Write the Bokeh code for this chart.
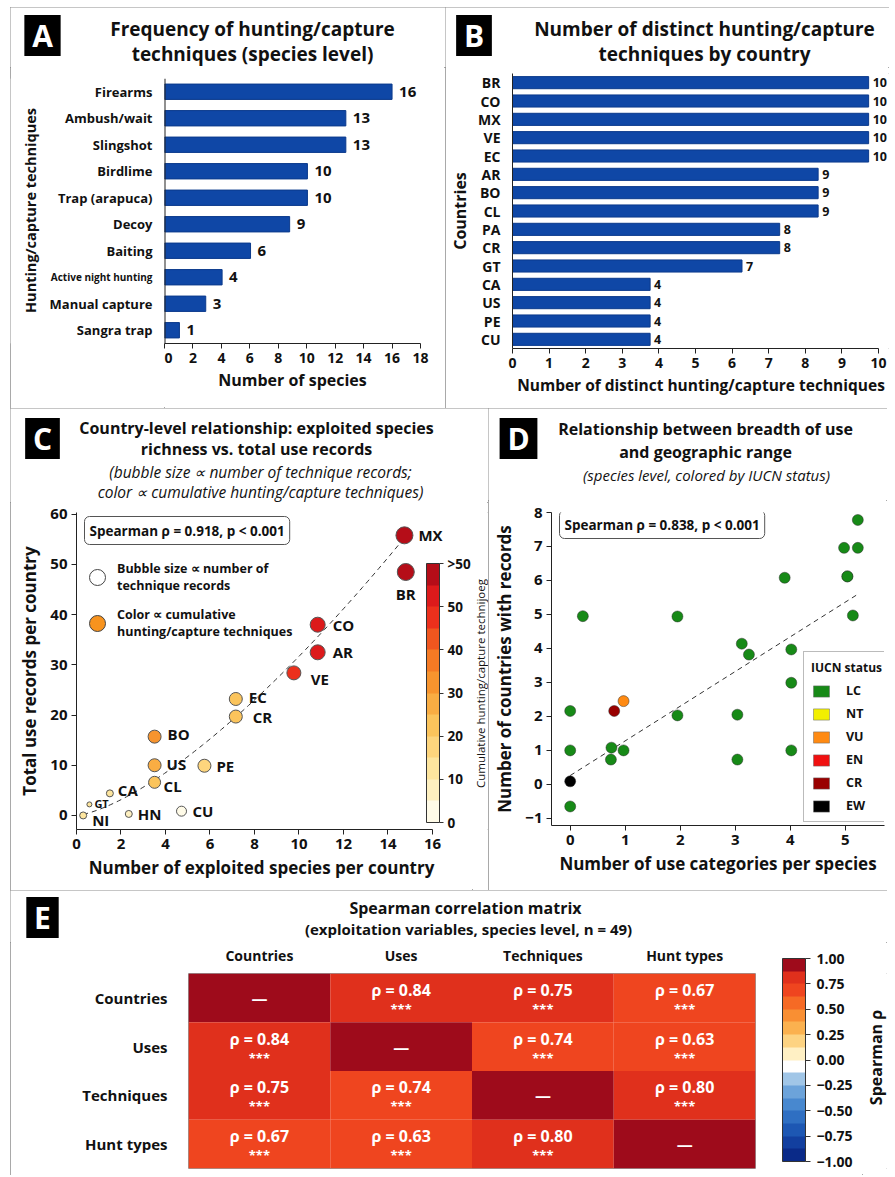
from math import pi
import numpy as np
from bokeh.plotting import figure
from bokeh.models import (ColumnDataSource, Label, FactorRange, Range1d, Span, Spacer,
                          LinearColorMapper, ColorBar, FixedTicker, Legend, LegendItem,
                          CustomJSTickFormatter)
from bokeh.layouts import column, row
from bokeh.embed import file_html
from bokeh.resources import INLINE
from bokeh.transform import transform
from bokeh.core.properties import value

# ------------------------------------------------------------------ data
# Panel A
techniques = ["Firearms", "Ambush/wait", "Slingshot", "Birdlime", "Trap (arapuca)",
              "Decoy", "Baiting", "Active night hunting", "Manual capture", "Sangra trap"]
technique_species = [16, 13, 13, 10, 10, 9, 6, 4, 3, 1]
technique_bar_len = [16.0, 12.75, 12.75, 10.05, 10.05, 8.8, 6.05, 4.05, 2.9, 1.05]
a_ticks = [0, 2, 4, 6, 8, 10, 12, 14, 16, 18]

# Panel B
countries_b = ["BR", "CO", "MX", "VE", "EC", "AR", "BO", "CL", "PA", "CR", "GT", "CA", "US", "PE", "CU"]
country_techniques = [10, 10, 10, 10, 10, 9, 9, 9, 8, 8, 7, 4, 4, 4, 4]
country_bar_len = [9.73, 9.73, 9.73, 9.73, 9.73, 8.35, 8.35, 8.35, 7.3, 7.3, 6.27, 3.76, 3.76, 3.76, 3.76]
b_ticks = [0, 1, 2, 3, 4, 5, 6, 7, 8, 9, 10]

# Panel C
countries_c = ["MX", "BR", "CO", "AR", "VE", "EC", "CR", "BO", "US", "PE", "CL", "CA", "GT", "NI", "HN", "CU"]
species_richness = [14.74, 14.80, 10.84, 10.84, 9.77, 7.16, 7.16, 3.51, 3.51, 5.75, 3.51, 1.50, 0.58, 0.30, 2.35, 4.72]
use_records = [55.8, 48.5, 38.0, 32.5, 28.4, 23.2, 19.7, 15.7, 10.0, 9.9, 6.6, 4.4, 2.2, 0.0, 0.3, 0.85]
technique_records = [13, 13, 11, 11, 10, 9, 9, 9, 9, 9, 8, 3, 1, 3, 3, 6]
cumulative_techniques = [58, 58, 52, 52, 47, 22, 22, 32, 28, 18, 22, 12, 12, 12, 8, 2]
fit_a, fit_b = 1.164, 1.435          # power-law trend
c_xticks = [0, 2, 4, 6, 8, 10, 12, 14, 16]
c_yticks = [0, 10, 20, 30, 40, 50, 60]
c_cbar_ticks = [0, 10, 20, 30, 40, 50, 60]

# Panel D
use_categories = [0.23, 0.0, 0.0, 0.0, 0.0, 0.75, 0.74, 0.97, 0.80, 0.97, 1.95, 1.95, 3.12,
                  3.25, 3.04, 3.04, 3.90, 4.02, 4.02, 4.02, 4.98, 5.23, 5.23, 5.04, 5.04, 5.14]
countries_with_records = [4.95, 2.16, 1.0, 0.09, -0.65, 1.08, 0.73, 1.0, 2.16, 2.45, 4.94, 2.03, 4.14,
                          3.82, 2.05, 0.73, 6.08, 3.97, 2.99, 1.0, 6.96, 6.96, 7.78, 6.12, 6.12, 4.97]
iucn_status = ["LC", "LC", "LC", "EW", "LC", "LC", "LC", "LC", "CR", "VU", "LC", "LC", "LC",
               "LC", "LC", "LC", "LC", "LC", "LC", "LC", "LC", "LC", "LC", "LC", "LC", "LC"]
iucn_order = ["LC", "NT", "VU", "EN", "CR", "EW"]
trend_intercept, trend_slope = 0.26, 1.02
d_xticks = [0, 1, 2, 3, 4, 5]
d_yticks = [-1, 0, 1, 2, 3, 4, 5, 6, 7, 8]

# Panel E
variables = ["Countries", "Uses", "Techniques", "Hunt types"]
rho_matrix = [[1.00, 0.84, 0.75, 0.67],
              [0.84, 1.00, 0.74, 0.63],
              [0.75, 0.74, 1.00, 0.80],
              [0.67, 0.63, 0.80, 1.00]]
significance = "***"
rho_ticks = [-1.0, -0.75, -0.5, -0.25, 0.0, 0.25, 0.5, 0.75, 1.0]

# ------------------------------------------------------------------ styles
FONT = "Open Sans"
BLUE = "#0F47A6"
INK = "#111111"
NAN = float("nan")
NBSP = "\u00a0"
PANEL_STYLE = {"outline": "1.5px solid #8c8c8c", "outline-offset": "-1px"}
cum_palette = ["#fffbe8", "#fef0c0", "#fde59e", "#fdd57d", "#fbc45c", "#f9ad43",
               "#f7942e", "#f57a24", "#f0561f", "#ec301c", "#dc1a1b", "#b50d18"]
rho_palette = ["#0a2a88", "#123f9f", "#1d57b3", "#2f6fc2", "#4888cf", "#6ca3da", "#a1c6e7", "#ffffff",
               "#fff0c4", "#fdd382", "#fbb14f", "#f98f33", "#f66a25", "#ef451f", "#e0301c", "#9e0b1b"]
iucn_colors = {"LC": "#178a17", "NT": "#f2ef00", "VU": "#ff8a12", "EN": "#f01010", "CR": "#990000", "EW": "#000000"}


def make_fig(**kw):
    p = figure(output_backend="svg", toolbar_location=None, **kw)
    p.outline_line_color = None
    p.grid.visible = False
    p.background_fill_color = "white"
    p.border_fill_color = "white"
    return p


def make_blank(width, height, top=0, bottom=0, y_range=None):
    """Axis-less figure used to carry titles / side texts (frame fills it)."""
    h = figure(width=width, height=height, output_backend="svg", toolbar_location=None,
               x_axis_location=None, y_axis_location=None,
               x_range=Range1d(0, width), y_range=y_range if y_range is not None else Range1d(0, height),
               min_border=0, min_border_left=0, min_border_right=0,
               min_border_top=top, min_border_bottom=bottom)
    h.outline_line_color = None
    h.grid.visible = False
    h.border_fill_color = "white"
    h.background_fill_color = "white"
    return h


def style_axis(axes, tick_size, title_size):
    for ax in axes:
        ax.major_label_text_font = FONT
        ax.major_label_text_font_style = "bold"
        ax.major_label_text_font_size = tick_size
        ax.major_label_text_color = INK
        ax.axis_label_text_font = FONT
        ax.axis_label_text_font_style = "bold"
        ax.axis_label_text_font_size = title_size
        ax.axis_label_text_color = INK
        ax.axis_line_color = "#222222"
        ax.major_tick_line_color = "#222222"
        ax.minor_tick_line_color = None
        ax.major_tick_out = 5
        ax.major_tick_in = 0
        ax.major_label_standoff = 4


def add_text(p, x, y, text, size, style="bold", align="center", color=INK, angle=0.0):
    p.add_layout(Label(x=x, y=y, x_units="screen", y_units="screen", text=text,
                       text_font=FONT, text_font_style=style, text_font_size=size,
                       text_align=align, text_baseline="middle", text_color=color, angle=angle))


def add_letter(p, x, y, letter):
    p.add_layout(Label(x=x, y=y, x_units="screen", y_units="screen", text=NBSP + letter + NBSP,
                       text_font=FONT, text_font_style="bold", text_font_size="30px",
                       text_color="white", text_align="center", text_baseline="middle",
                       background_fill_color="black"))


def add_stat_box(p, x, y, text):
    p.add_layout(Label(x=x, y=y, x_units="screen", y_units="screen", text=text,
                       text_font=FONT, text_font_style="bold", text_font_size="13.5px",
                       text_align="left", text_baseline="middle", text_color=INK,
                       background_fill_color="white", border_line_color="#555555",
                       border_line_width=1, padding=5, border_radius=5))


def panel(header, body):
    return column(header, body, styles=PANEL_STYLE)


# ------------------------------------------------------------------ Panel A
label_size_a = {"Active night hunting": "10px"}
srcA = ColumnDataSource(dict(technique=techniques, bar=technique_bar_len,
                             count=[str(v) for v in technique_species],
                             fs=[label_size_a.get(t, "13px") for t in techniques]))
hA = make_blank(435, 60)
add_letter(hA, 32, 32, "A")
add_text(hA, 242, 39, "Frequency of hunting/capture", "19px")
add_text(hA, 242, 14, "techniques (species level)", "19px")

yA = FactorRange(factors=techniques[::-1])
pA = make_fig(width=281, height=341, x_range=Range1d(0, 18), y_range=yA, y_axis_location=None,
              min_border_left=0, min_border_right=25, min_border_top=11, min_border_bottom=65)
pA.hbar(y="technique", right="bar", left=0, height=0.58, source=srcA,
        fill_color=BLUE, line_color="#0b3a8c")
pA.add_layout(Span(location=0, dimension="height", line_color="#222222", line_width=2))
style_axis(pA.axis, "14px", "16px")
pA.xaxis.ticker = FixedTicker(ticks=a_ticks)
pA.xaxis.axis_label = "Number of species"
pA.xaxis.axis_label_standoff = 3
pA.text(x="bar", y="technique", text="count", source=srcA, x_offset=7,
        text_font=value(FONT), text_font_style="bold", text_font_size="15px",
        text_align="left", text_baseline="middle", text_color=INK)
# category labels (left strip sharing the y range)
lA = make_blank(154, 341, top=11, bottom=65, y_range=yA)
lA.text(x=154, y="technique", text="technique", source=srcA, x_offset=-12,
        text_font=value(FONT), text_font_style="bold", text_font_size="fs",
        text_align="right", text_baseline="middle", text_color=INK)
add_text(lA, 20, 133, "Hunting/capture techniques", "14.5px", angle=pi / 2)

# ------------------------------------------------------------------ Panel B
srcB = ColumnDataSource(dict(country=countries_b, bar=country_bar_len,
                             count=[str(v) for v in country_techniques]))
hB = make_blank(444, 60)
add_letter(hB, 28.5, 32, "B")
add_text(hB, 259, 39, "Number of distinct hunting/capture", "19px")
add_text(hB, 259, 14, "techniques by country", "19px")

pB = make_fig(width=444, height=341, x_range=Range1d(0, 10.3),
              y_range=FactorRange(factors=countries_b[::-1]),
              min_border_left=58, min_border_right=0, min_border_top=6, min_border_bottom=60)
pB.hbar(y="country", right="bar", left=0, height=0.66, source=srcB,
        fill_color=BLUE, line_color="#0b3a8c")
style_axis(pB.axis, "14px", "15.5px")
pB.xaxis.ticker = FixedTicker(ticks=b_ticks)
pB.xaxis.bounds = (0, 10)
pB.xaxis.axis_label = "Number of distinct hunting/capture techniques"
pB.xaxis.axis_label_standoff = 3
pB.yaxis.major_tick_line_color = None
pB.yaxis.major_label_standoff = 7
pB.yaxis.axis_label = "Countries"
pB.yaxis.axis_label_text_font_size = "16px"
pB.yaxis.axis_label_standoff = 4
pB.text(x="bar", y="country", text="count", source=srcB, x_offset=4,
        text_font=value(FONT), text_font_style="bold", text_font_size="12.5px",
        text_align="left", text_baseline="middle", text_color=INK)

# ------------------------------------------------------------------ Panel C
label_offsets_c = {  # (dx, dy, align, font size) -- styling only
    "MX": (14, 0, "left", "15px"), "BR": (0, -22, "center", "15px"), "CO": (15, 0, "left", "15px"),
    "AR": (15, 0, "left", "15px"), "VE": (17, -6, "left", "15px"), "EC": (13, 2, "left", "15px"),
    "CR": (17, 0, "left", "15px"), "BO": (13, 3, "left", "15px"), "US": (12, 1, "left", "15px"),
    "PE": (12, 0, "left", "15px"), "CL": (9, -4, "left", "15px"), "CA": (8, 3, "left", "15px"),
    "GT": (5, 1, "left", "11px"), "NI": (9, -5, "left", "15px"), "HN": (9, 0, "left", "15px"),
    "CU": (11, 0, "left", "15px")}
mapperC = LinearColorMapper(palette=cum_palette, low=0, high=60)
srcC = ColumnDataSource(dict(
    country=countries_c, x=species_richness, y=use_records, cum=cumulative_techniques,
    size=[4 + r for r in technique_records],
    dx=[label_offsets_c[c][0] for c in countries_c], dy=[-label_offsets_c[c][1] for c in countries_c],
    align=[label_offsets_c[c][2] for c in countries_c], fs=[label_offsets_c[c][3] for c in countries_c]))
hC = make_blank(478, 94)
add_letter(hC, 32, 64, "C")
add_text(hC, 246, 75, "Country-level relationship: exploited species", "16px")
add_text(hC, 246, 54, "richness vs. total use records", "16px")
add_text(hC, 250, 31, "(bubble size \u221d number of technique records;", "15.5px", style="italic")
add_text(hC, 250, 11, "color \u221d cumulative hunting/capture techniques)", "15.5px", style="italic")

pC = make_fig(width=462, height=388, x_range=Range1d(0, 16.63), y_range=Range1d(-2.8, 60.35),
              min_border_left=66, min_border_right=26, min_border_top=10, min_border_bottom=61)
xs_fit = np.linspace(min(species_richness), max(species_richness), 120)
pC.line(xs_fit, fit_a * xs_fit ** fit_b, line_dash="5 4", line_color="#333333", line_width=1)
pC.scatter("x", "y", size="size", source=srcC, fill_color=transform("cum", mapperC),
           line_color="#555555", line_width=1)
pC.text(x="x", y="y", text="country", source=srcC, x_offset="dx", y_offset="dy",
        text_font=value(FONT), text_font_style="bold", text_font_size="fs",
        text_align="align", text_baseline="middle", text_color=INK)
style_axis(pC.axis, "15px", "17px")
pC.xaxis.ticker = FixedTicker(ticks=c_xticks)
pC.xaxis.bounds = (0, 16)
pC.yaxis.ticker = FixedTicker(ticks=c_yticks)
pC.xaxis.axis_label = "Number of exploited species per country"
pC.yaxis.axis_label = "Total use records per country"
pC.xaxis.axis_label_standoff = 4
pC.yaxis.axis_label_standoff = 6
r_size = pC.scatter(x=[NAN], y=[NAN], size=16, fill_color="white", line_color="#444444", line_width=1)
r_color = pC.scatter(x=[NAN], y=[NAN], size=16, fill_color="#f7931e", line_color="#444444", line_width=1)
legC = Legend(items=[LegendItem(label="Bubble size \u221d number of\ntechnique records", renderers=[r_size]),
                     LegendItem(label="Color \u221d cumulative\nhunting/capture techniques", renderers=[r_color])],
              location=(1, 186), orientation="vertical", glyph_width=40, glyph_height=40,
              spacing=6, padding=0, margin=0, label_standoff=0,
              background_fill_alpha=0, border_line_color=None,
              label_text_font=FONT, label_text_font_style="bold", label_text_font_size="12.5px",
              label_text_color=INK)
pC.add_layout(legC)
cbC = ColorBar(color_mapper=mapperC, location=(350, 7), width=13, height=259, padding=0,
               orientation="vertical", ticker=FixedTicker(ticks=c_cbar_ticks),
               formatter=CustomJSTickFormatter(code="return tick >= 60 ? '>50' : tick.toFixed(0);"),
               major_label_text_font=FONT, major_label_text_font_style="bold",
               major_label_text_font_size="13.5px", major_label_text_color=INK,
               bar_line_color="#333333", major_tick_line_color="#333333",
               major_tick_out=4, major_tick_in=0, label_standoff=4,
               background_fill_alpha=0, border_line_color=None)
pC.add_layout(cbC)
add_stat_box(pC, 8, 299, "Spearman \u03c1 = 0.918, p < 0.001")
cC = make_blank(16, 388, top=10, bottom=61)
add_text(cC, 8, 146, "Cumulative hunting/capture technijoeg", "11.5px", style="normal", angle=pi / 2)

# ------------------------------------------------------------------ Panel D
srcD = ColumnDataSource(dict(x=use_categories, y=countries_with_records, status=iucn_status,
                             color=[iucn_colors[s] for s in iucn_status]))
hD = make_blank(399, 92)
add_letter(hD, 30, 62, "D")
add_text(hD, 217, 72, "Relationship between breadth of use", "16px")
add_text(hD, 217, 49, "and geographic range", "16px")
add_text(hD, 218, 26, "(species level, colored by IUCN status)", "15px", style="italic")

pD = make_fig(width=399, height=390, x_range=Range1d(-0.34, 5.715), y_range=Range1d(-1.21, 8.0),
              min_border_left=63, min_border_right=3, min_border_top=12, min_border_bottom=65)
x_tr = np.array([min(use_categories), max(use_categories)])
pD.line(x_tr, trend_intercept + trend_slope * x_tr, line_dash="5 4", line_color="#333333", line_width=1)
pD.scatter("x", "y", source=srcD, size=11, fill_color="color", line_color="#2b2b2b",
           line_width=0.8, line_alpha=0.6)
style_axis(pD.axis, "15px", "17px")
pD.xaxis.ticker = FixedTicker(ticks=d_xticks)
pD.yaxis.ticker = FixedTicker(ticks=d_yticks)
pD.xaxis.axis_label = "Number of use categories per species"
pD.yaxis.axis_label = "Number of countries with records"
pD.xaxis.axis_label_standoff = 4
pD.yaxis.axis_label_standoff = 6
legend_items = []
for s in iucn_order:
    r = pD.quad(left=[NAN], right=[NAN], top=[NAN], bottom=[NAN], fill_color=iucn_colors[s],
                line_color="#666666", line_width=0.5)
    legend_items.append(LegendItem(label=s, renderers=[r]))
legD = Legend(items=legend_items, title="IUCN status", location=(252, 3),
              glyph_width=20, glyph_height=14, spacing=6, padding=7, margin=0, label_standoff=15,
              title_standoff=6, border_line_color="#777777", border_line_width=1,
              background_fill_color="white", background_fill_alpha=1,
              label_text_font=FONT, label_text_font_style="bold", label_text_font_size="12.5px",
              label_text_color=INK, title_text_font=FONT, title_text_font_style="bold",
              title_text_font_size="12px", title_text_color=INK)
pD.add_layout(legD)
add_stat_box(pD, 8, 301, "Spearman \u03c1 = 0.838, p < 0.001")

# ------------------------------------------------------------------ Panel E
rows_, cols_, rhos = [], [], []
for i, rv in enumerate(variables):
    for j, cv in enumerate(variables):
        rows_.append(rv)
        cols_.append(cv)
        rhos.append(rho_matrix[i][j])
srcE = ColumnDataSource(dict(row=rows_, col=cols_, rho=rhos))
off = [(r, c, v) for r, c, v in zip(rows_, cols_, rhos) if r != c]
diag = [(r, c) for r, c in zip(rows_, cols_) if r == c]
srcE_off = ColumnDataSource(dict(row=[o[0] for o in off], col=[o[1] for o in off],
                                 txt=["\u03c1 = %.2f" % o[2] for o in off],
                                 sig=[significance for _ in off]))
srcE_diag = ColumnDataSource(dict(row=[d[0] for d in diag], col=[d[1] for d in diag],
                                  txt=["\u2014" for _ in diag]))
mapperE = LinearColorMapper(palette=rho_palette, low=-1, high=1)

hE = make_blank(877, 52)
add_letter(hE, 32, 25, "E")
add_text(hE, 455, 35, "Spearman correlation matrix", "16px")
add_text(hE, 458, 14, "(exploitation variables, species level, n = 49)", "15px")

pE = make_fig(width=852, height=233, x_range=FactorRange(factors=variables),
              y_range=FactorRange(factors=variables[::-1]), x_axis_location="above",
              min_border_left=178, min_border_right=107, min_border_top=22, min_border_bottom=7)
pE.outline_line_color = "#9a9a9a"
pE.rect(x="col", y="row", width=1, height=1, source=srcE,
        fill_color=transform("rho", mapperE), line_color=None)
pE.text(x="col", y="row", text="txt", source=srcE_off, y_offset=-8,
        text_font=value(FONT), text_font_style="bold", text_font_size="16px",
        text_color="white", text_align="center", text_baseline="middle")
pE.text(x="col", y="row", text="sig", source=srcE_off, y_offset=11,
        text_font=value(FONT), text_font_style="bold", text_font_size="13px",
        text_color="white", text_align="center", text_baseline="middle")
pE.text(x="col", y="row", text="txt", source=srcE_diag,
        text_font=value(FONT), text_font_style="bold", text_font_size="16px",
        text_color="white", text_align="center", text_baseline="middle")
style_axis(pE.axis, "15px", "15px")
for ax in pE.axis:
    ax.axis_line_color = None
    ax.major_tick_line_color = None
pE.xaxis.major_label_text_font_size = "14px"
pE.xaxis.major_label_standoff = 4
pE.yaxis.major_label_standoff = 16
cbE = ColorBar(color_mapper=mapperE, location=(594, 7), width=23, height=203, padding=0,
               orientation="vertical", ticker=FixedTicker(ticks=rho_ticks),
               formatter=CustomJSTickFormatter(
                   code="return (tick < 0 ? '\\u2212' : '') + Math.abs(tick).toFixed(2);"),
               major_label_text_font=FONT, major_label_text_font_style="bold",
               major_label_text_font_size="14px", major_label_text_color=INK,
               bar_line_color="#333333", major_tick_line_color="#333333",
               major_tick_out=5, major_tick_in=0, label_standoff=6,
               background_fill_alpha=0, border_line_color=None)
pE.add_layout(cbE)
sE = make_blank(25, 233, top=22, bottom=7)
add_text(sE, 13, 111, "Spearman \u03c1", "16px", angle=pi / 2)

layout = column(
    Spacer(height=7),
    row(Spacer(width=10),
        column(row(panel(hA, row(lA, pA)), panel(hB, row(pB))),
               row(panel(hC, row(pC, cC)), panel(hD, row(pD))),
               panel(hE, row(pE, sE)))))
open("out.html", "w").write(file_html(layout, INLINE, title="Hunting and capture techniques"))
